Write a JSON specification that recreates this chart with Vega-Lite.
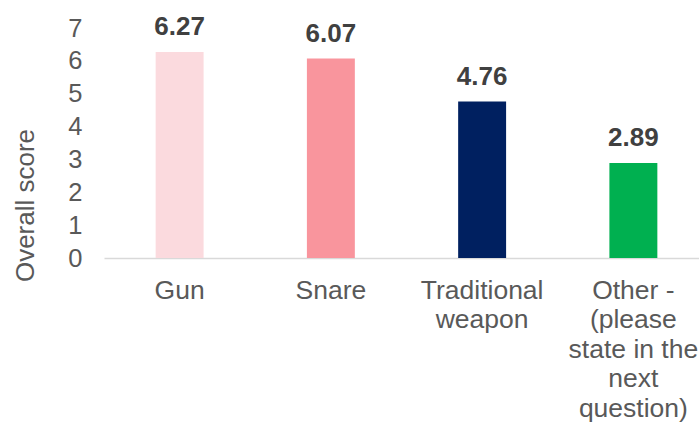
{
  "$schema": "https://vega.github.io/schema/vega-lite/v6.json",
  "width": 595,
  "height": 230,
  "autosize": "none",
  "padding": {"left": 104, "top": 28, "right": 0, "bottom": 168},
  "background": "white",
  "config": {"view": {"stroke": null}, "font": "Liberation Sans"},
  "data": {"values": [
    {"method": "Gun", "score": 6.27},
    {"method": "Snare", "score": 6.07},
    {"method": "Traditional weapon", "score": 4.76},
    {"method": "Other - (please state in the next question)", "score": 2.89}
  ]},
  "encoding": {
    "x": {"field": "method", "type": "nominal", "sort": null,
      "scale": {"range": [0, 605], "paddingInner": 0.683, "paddingOuter": 0.3415},
      "axis": {"title": null, "labelAngle": 0, "ticks": false, "domainColor": "#d9d9d9", "domainWidth": 1.5,
        "labelFont": "Liberation Sans", "labelFontSize": 26.5, "labelColor": "#595959", "labelPadding": 19,
        "labelBaseline": "top", "labelLineHeight": 29.5, "labelAlign": "center",
        "labelExpr": "datum.label == 'Traditional weapon' ? ['Traditional', 'weapon'] : datum.label == 'Other - (please state in the next question)' ? ['Other -', '(please', 'state in the', 'next', 'question)'] : datum.label"}},
    "y": {"field": "score", "type": "quantitative",
      "scale": {"domain": [0, 7], "nice": false},
      "axis": {"title": "Overall score", "values": [0,1,2,3,4,5,6,7], "grid": false, "domain": false, "ticks": false,
        "labelPadding": 22, "labelFont": "Liberation Sans", "labelFontSize": 25.5, "labelColor": "#595959",
        "titleFont": "Liberation Sans", "titleFontSize": 26, "titleFontWeight": "normal", "titleColor": "#595959",
        "titleX": -79, "titleY": 177, "titleAngle": 270, "titleAlign": "center", "titleBaseline": "middle"}}
  },
  "layer": [
    {"mark": {"type": "bar"},
     "encoding": {"color": {"field": "method", "type": "nominal", "sort": null, "legend": null,
       "scale": {"range": ["#FBDADE", "#F9959D", "#002060", "#00B050"]}}}},
    {"mark": {"type": "text", "baseline": "alphabetic", "dy": -17, "fontSize": 26, "fontWeight": "bold", "color": "#404040", "font": "Liberation Sans"},
     "encoding": {"text": {"field": "score", "type": "quantitative", "format": ".2f"}}}
  ]
}
